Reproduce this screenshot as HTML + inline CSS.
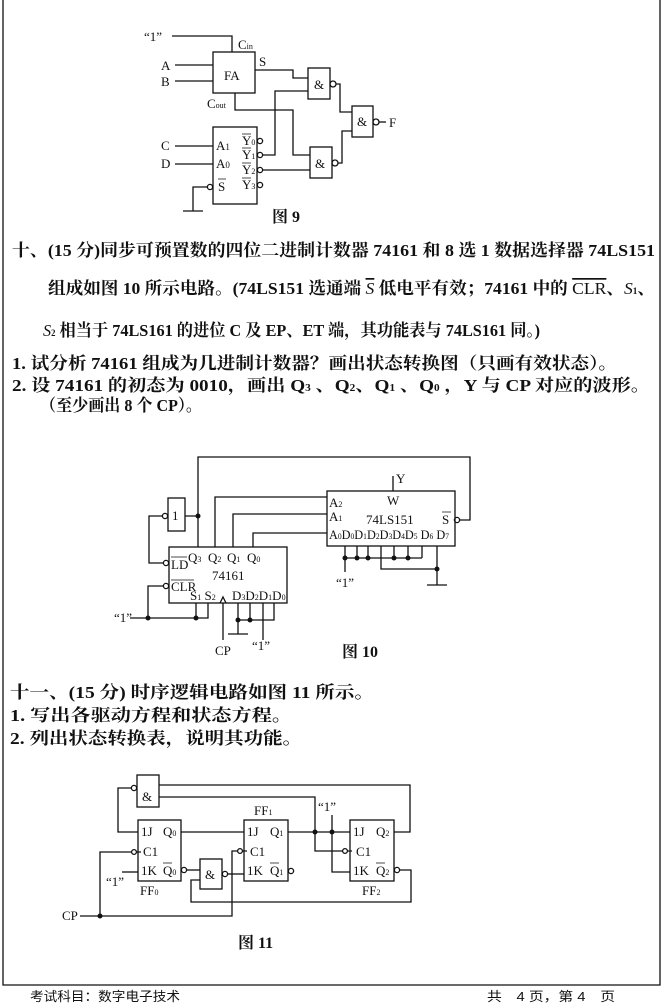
<!DOCTYPE html>
<html><head><meta charset="utf-8"><style>
html,body{margin:0;padding:0;background:#fff;}
svg{display:block;}
.t{font-family:"Liberation Serif","Noto Serif CJK SC",serif;font-weight:bold;font-size:17px;fill:#111;}
.c{font-family:"Liberation Serif","Noto Serif CJK SC",serif;font-size:13px;fill:#111;}
.f{font-family:"Liberation Serif","Noto Serif CJK SC",serif;font-weight:bold;font-size:16px;fill:#111;}
.ft{font-family:"Liberation Sans","Noto Sans CJK SC",sans-serif;font-size:13px;fill:#111;}
.ov{text-decoration:overline;}
</style></head><body>
<svg width="664" height="1004" viewBox="0 0 664 1004" xmlns="http://www.w3.org/2000/svg">
<g fill="none" stroke="#111" stroke-width="1.3">
<path d="M3 0V985H660V0"/>

<!-- FIG 9 -->
<path d="M172 36H232V52"/>
<rect x="213" y="52" width="42" height="41"/>
<path d="M175 65H213M175 81H213"/>
<path d="M255 70H293V78H308"/>
<rect x="308" y="68" width="22" height="31"/>
<circle cx="333" cy="84" r="3"/>
<path d="M336 84H340V112H352"/>
<path d="M308 91H275V155H262"/>
<path d="M235 93V110H293V155H310"/>
<rect x="352" y="106" width="21" height="31"/>
<circle cx="376" cy="122" r="3"/>
<path d="M379 122H386"/>
<rect x="310" y="147" width="22" height="31"/>
<circle cx="335" cy="163" r="3"/>
<path d="M338 163H342V131H352"/>
<path d="M262 170H310"/>
<rect x="213" y="127" width="44" height="77"/>
<path d="M175 146H213M175 164H213"/>
<circle cx="260" cy="141" r="2.6"/><circle cx="260" cy="155" r="2.6"/><circle cx="260" cy="170" r="2.6"/><circle cx="260" cy="185" r="2.6"/>
<circle cx="210" cy="187" r="2.6"/>
<path d="M207 187H193V211M183 211H203"/>

<!-- FIG 10 -->
<path d="M198 516V457H470V520H460"/>
<circle cx="457" cy="520" r="2.6"/>
<rect x="168" y="498" width="17" height="33"/>
<circle cx="165" cy="516" r="2.6"/>
<path d="M185 516H198V547"/>
<path d="M162 516H149V563H163"/>
<circle cx="166" cy="563" r="2.6"/>
<circle cx="166" cy="586" r="2.6"/>
<path d="M163 586H148V618"/>
<path d="M130 618H208V603M196 618V603"/>
<rect x="169" y="547" width="118" height="56"/>
<path d="M220 603L223 597L226 603M223 603V640"/>
<path d="M238 603V634M228 634H248M250 603V620M238 620H274V603M263 603V640"/>
<path d="M215 547V497H327M233 547V514H327M253 547V533H327"/>
<rect x="327" y="491" width="128" height="55"/>
<path d="M393 491V476"/>
<path d="M345 546V572M357 546V558M368 546V558M394 546V558M408 546V558M422 546V558M345 558H422"/>
<path d="M381 546V569H437M437 546V585M427 585H447"/>

<!-- FIG 11 -->
<rect x="137" y="775" width="22" height="32"/>
<circle cx="134" cy="788" r="2.6"/>
<path d="M131 788H118V832H138"/>
<path d="M159 785H410V832H394"/>
<path d="M159 797H315V851H342"/>
<rect x="138" y="820" width="43" height="61"/>
<rect x="244" y="820" width="44" height="61"/>
<rect x="350" y="820" width="44" height="61"/>
<path d="M181 832H244M288 832H350"/>
<circle cx="184" cy="870" r="2.6"/>
<path d="M187 870H200"/>
<rect x="200" y="859" width="22" height="30"/>
<circle cx="225" cy="874" r="2.6"/>
<path d="M228 874H244"/>
<path d="M200 880H191V902H411V870H400"/>
<circle cx="397" cy="870" r="2.6"/>
<circle cx="291" cy="871" r="2.6"/>
<path d="M332 815V872H350"/>
<path d="M122 872H138"/>
<path d="M80 916H232V851H238"/>
<path d="M100 916V852H131"/>
<circle cx="134" cy="852" r="2.4"/><circle cx="240" cy="851" r="2.4"/><circle cx="345" cy="851" r="2.4"/>
<path d="M136 852L141 852M242 851L247 851M347 851L352 851"/>
</g>
<g fill="#111">
<circle cx="198" cy="516" r="2.5"/>
<circle cx="148" cy="618" r="2.5"/><circle cx="196" cy="618" r="2.5"/>
<circle cx="238" cy="620" r="2.5"/><circle cx="250" cy="620" r="2.5"/>
<circle cx="345" cy="558" r="2.5"/><circle cx="357" cy="558" r="2.5"/><circle cx="368" cy="558" r="2.5"/><circle cx="394" cy="558" r="2.5"/><circle cx="408" cy="558" r="2.5"/>
<circle cx="437" cy="569" r="2.5"/>
<circle cx="315" cy="832" r="2.5"/><circle cx="332" cy="832" r="2.5"/>
<circle cx="100" cy="916" r="2.5"/>
</g>

<g class="c">
<text x="144" y="41">“1”</text>
<text x="238" y="49">C<tspan font-size="8">in</tspan></text>
<text x="224" y="80">FA</text>
<text x="161" y="70">A</text><text x="161" y="86">B</text>
<text x="259" y="66">S</text>
<text x="207" y="108">C<tspan font-size="8">out</tspan></text>
<text x="314" y="89">&amp;</text>
<text x="357" y="126">&amp;</text>
<text x="315" y="168">&amp;</text>
<text x="389" y="127">F</text>
<text x="161" y="150">C</text><text x="161" y="168">D</text>
<text x="216" y="150">A<tspan font-size="9">1</tspan></text>
<text x="216" y="168">A<tspan font-size="9">0</tspan></text>
<text x="218" y="191">S</text>
<text x="242" y="145">Y<tspan font-size="8">0</tspan></text>
<text x="242" y="159">Y<tspan font-size="8">1</tspan></text>
<text x="242" y="174">Y<tspan font-size="8">2</tspan></text>
<text x="242" y="189">Y<tspan font-size="8">3</tspan></text>
</g>
<g stroke="#111" stroke-width="0.8"><path d="M218 179H226M242 134H251M242 148H251M242 163H251M242 178H251"/></g>
<text class="f" x="272" y="222">图 9</text>

<g class="c">
<text x="172" y="520">1</text>
<text x="188" y="562">Q<tspan font-size="8">3</tspan></text>
<text x="208" y="562">Q<tspan font-size="8">2</tspan></text>
<text x="227" y="562">Q<tspan font-size="8">1</tspan></text>
<text x="247" y="562">Q<tspan font-size="8">0</tspan></text>
<text x="171" y="569">LD</text>
<text x="212" y="580">74161</text>
<text x="171" y="591">CLR</text>
<text x="190" y="600">S<tspan font-size="8">1</tspan> S<tspan font-size="8">2</tspan></text>
<text x="232" y="600">D<tspan font-size="8">3</tspan>D<tspan font-size="8">2</tspan>D<tspan font-size="8">1</tspan>D<tspan font-size="8">0</tspan></text>
<text x="114" y="622">“1”</text>
<text x="215" y="655">CP</text>
<text x="252" y="650">“1”</text>
<text x="396" y="483">Y</text>
<text x="387" y="505">W</text>
<text x="366" y="524">74LS151</text>
<text x="329" y="507">A<tspan font-size="8">2</tspan></text>
<text x="329" y="521">A<tspan font-size="8">1</tspan></text>
<text x="329" y="539" textLength="120" lengthAdjust="spacingAndGlyphs">A<tspan font-size="8">0</tspan>D<tspan font-size="8">0</tspan>D<tspan font-size="8">1</tspan>D<tspan font-size="8">2</tspan>D<tspan font-size="8">3</tspan>D<tspan font-size="8">4</tspan>D<tspan font-size="8">5</tspan> D<tspan font-size="8">6</tspan> D<tspan font-size="8">7</tspan></text>
<text x="442" y="524">S</text>
<text x="336" y="587">“1”</text>
</g>
<g stroke="#111" stroke-width="0.8"><path d="M171 557H187M171 580H194M442 512H451"/></g>
<text class="f" x="342" y="657">图 10</text>

<g class="c">
<text x="142" y="801">&amp;</text>
<text x="205" y="879">&amp;</text>
<text x="141" y="836">1J</text><text x="163" y="836">Q<tspan font-size="8">0</tspan></text>
<text x="143" y="856">C1</text>
<text x="141" y="875">1K</text><text x="163" y="875">Q<tspan font-size="8">0</tspan></text>
<text x="140" y="895">FF<tspan font-size="8">0</tspan></text>
<text x="247" y="836">1J</text><text x="270" y="836">Q<tspan font-size="8">1</tspan></text>
<text x="250" y="856">C1</text>
<text x="247" y="875">1K</text><text x="270" y="875">Q<tspan font-size="8">1</tspan></text>
<text x="254" y="815">FF<tspan font-size="8">1</tspan></text>
<text x="353" y="836">1J</text><text x="376" y="836">Q<tspan font-size="8">2</tspan></text>
<text x="356" y="856">C1</text>
<text x="353" y="875">1K</text><text x="376" y="875">Q<tspan font-size="8">2</tspan></text>
<text x="362" y="895">FF<tspan font-size="8">2</tspan></text>
<text x="318" y="811">“1”</text>
<text x="106" y="886">“1”</text>
<text x="62" y="920">CP</text>
</g>
<g stroke="#111" stroke-width="0.8"><path d="M163 863H172M270 863H279M376 863H385"/></g>
<text class="f" x="238" y="948">图 11</text>

<text class="t" x="12" y="256" textLength="643" lengthAdjust="spacingAndGlyphs">十、(15 分)同步可预置数的四位二进制计数器 74161 和 8 选 1 数据选择器 74LS151</text>
<text class="t" x="48" y="294" textLength="607" lengthAdjust="spacingAndGlyphs">组成如图 10 所示电路。(74LS151 选通端 <tspan class="ov" font-style="italic" font-weight="normal">S</tspan> 低电平有效；74161 中的 <tspan class="ov" font-weight="normal">CLR</tspan>、<tspan font-style="italic" font-weight="normal">S</tspan><tspan font-size="9">1</tspan>、</text>
<text class="t" x="43" y="336" textLength="497" lengthAdjust="spacingAndGlyphs"><tspan font-style="italic" font-weight="normal">S</tspan><tspan font-size="9">2</tspan> 相当于 74LS161 的进位 C 及 EP、ET 端，其功能表与 74LS161 同。)</text>
<text class="t" x="12" y="369" textLength="605" lengthAdjust="spacingAndGlyphs">1. 试分析 74161 组成为几进制计数器？画出状态转换图（只画有效状态）。</text>
<text class="t" x="12" y="391" textLength="638" lengthAdjust="spacingAndGlyphs">2. 设 74161 的初态为 0010，画出 Q<tspan font-size="10">3</tspan> 、Q<tspan font-size="10">2</tspan>、Q<tspan font-size="10">1</tspan> 、Q<tspan font-size="10">0</tspan> ，Y 与 CP 对应的波形。</text>
<text class="t" x="40" y="411" textLength="162" lengthAdjust="spacingAndGlyphs">（至少画出 8 个 CP）。</text>

<text class="t" x="10" y="698" textLength="364" lengthAdjust="spacingAndGlyphs">十一、(15 分) 时序逻辑电路如图 11 所示。</text>
<text class="t" x="10" y="721" textLength="282" lengthAdjust="spacingAndGlyphs">1. 写出各驱动方程和状态方程。</text>
<text class="t" x="10" y="744" textLength="292" lengthAdjust="spacingAndGlyphs">2. 列出状态转换表，说明其功能。</text>

<text class="ft" x="30" y="1001" textLength="150" lengthAdjust="spacingAndGlyphs">考试科目：数字电子技术</text>
<text class="ft" x="487" y="1001" textLength="128" lengthAdjust="spacingAndGlyphs">共　4 页，第 4　页</text>
</svg>
</body></html>
